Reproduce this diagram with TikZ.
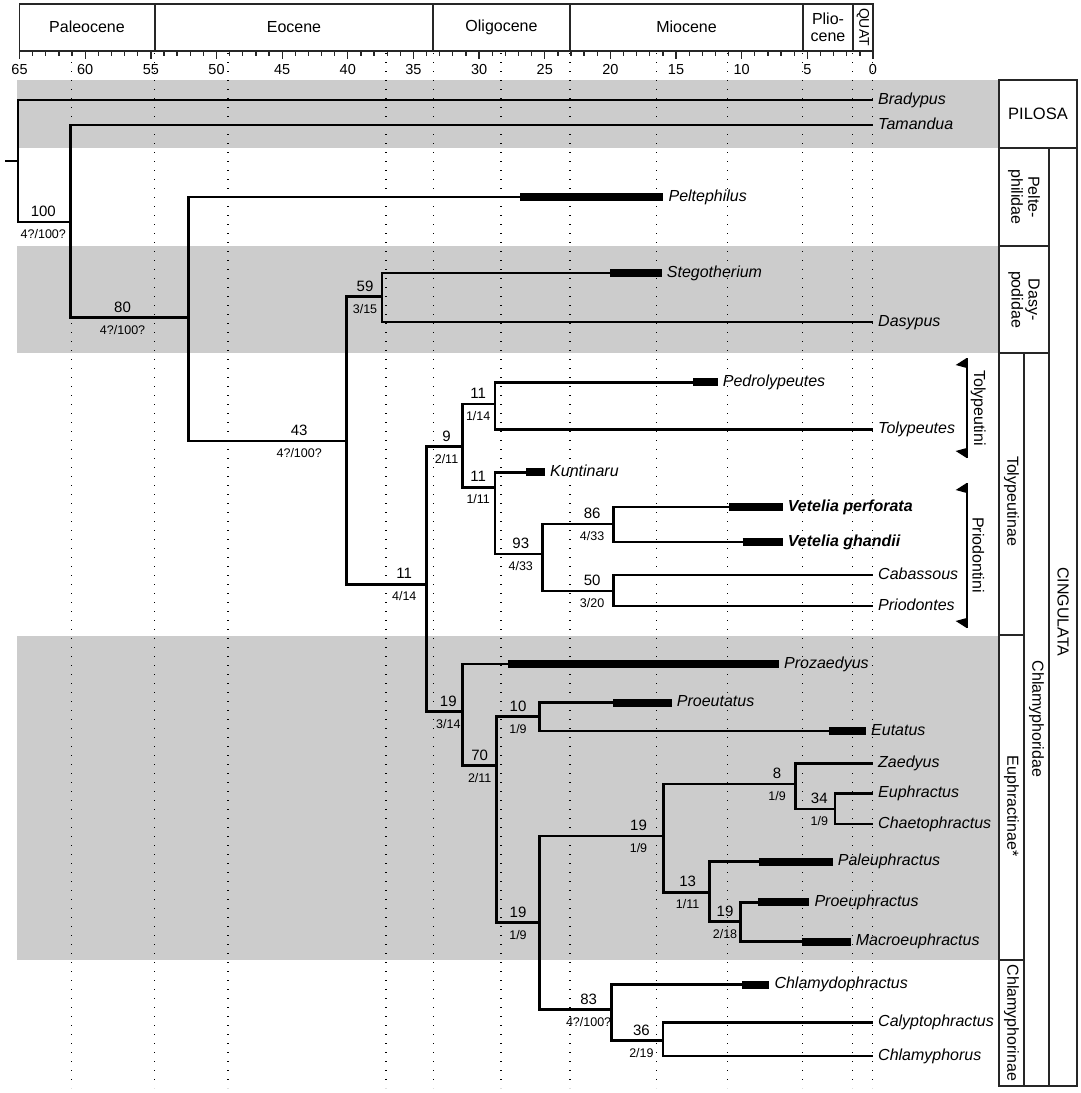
\documentclass[tikz,border=0pt]{standalone}
\usepackage{fontspec}
\setmainfont{Liberation Sans}
\usetikzlibrary{positioning,calc}
\tikzset{
  band/.style={fill=black!20,draw=none},
  timeline/.style={line width=1.2pt,dash pattern=on 1.4pt off 7.6pt,draw=black},
  frame/.style={line width=1.3pt,draw=black!85},
  branch/.style={line width=2.8pt,draw=black},
  bar/.style={line width=8pt,draw=black},
  taxon/.style={anchor=west,inner xsep=5pt,inner ysep=0pt,text height=11.5pt,text depth=3.5pt,font=\fontsize{16}{19}\selectfont\itshape},
  newtaxon/.style={taxon,font=\fontsize{16}{19}\selectfont\bfseries\itshape},
  sval/.style={above=4pt,inner sep=0pt,font=\fontsize{15}{18}\selectfont},
  sfrac/.style={below=6pt,inner sep=0pt,font=\fontsize{12.5}{15}\selectfont},
  epoch/.style={font=\fontsize{16}{17}\selectfont,align=center},
  axisnum/.style={font=\fontsize{14.5}{16}\selectfont},
  rank/.style={font=\fontsize{16}{17}\selectfont,align=center,rotate=-90},
  clade/.style={line width=2pt,draw=black}
}

\begin{document}
\begin{tikzpicture}[x=1pt,y=-1pt]
\useasboundingbox (0,0) rectangle (1081,1093);
% Bandas grises
\fill[band] (17,80) rectangle (999,148);
\fill[band] (17,246) rectangle (999,353);
\fill[band] (17,636) rectangle (999,960);

% Escala de tiempo
\foreach \x in {71.7,154.8,228,385.9,433.1,501,570,656.2,727.2,802.8,852.8,872.8}
  \draw[timeline] (\x,53) -- (\x,1088);
\draw[frame] (19.5,4) rectangle (873,51);
\foreach \x in {155,433,570,803,853}
  \draw[frame] (\x,4) -- (\x,51);
\foreach \t in {0,...,65}
  \draw[frame] ({873-13.13*\t},51) -- ++(0,5);
\foreach \t in {0,5,...,65}{
  \draw[frame] ({873-13.13*\t},51) -- ++(0,8);
  \node[axisnum] (ax\t) at ({873-13.13*\t},70) {\t};
}
\node[epoch] (paleo) at (87,27) {Paleocene};
\node[epoch] (eoc) at (294,27) {Eocene};
\node[epoch] (oligo) at (501.5,27) {Oligocene};
\node[epoch] (mio) at (686.5,27) {Miocene};
\node[epoch] (plio) at (828,27) {Plio-\\cene};
\node[epoch,rotate=-90,font=\fontsize{14}{16}\selectfont] (quat) at (863,27) {QUAT};

% Terminales
\node[taxon] (brad) at (873,100) {Bradypus};
\node[taxon] (tama) at (873,125) {Tamandua};
\node[taxon] (pelt) at (663.4,197) {Peltephilus};
\node[taxon] (steg) at (661.7,273) {Stegotherium};
\node[taxon] (dasy) at (873,322) {Dasypus};
\node[taxon] (pedr) at (717.7,382.3) {Pedrolypeutes};
\node[taxon] (toly) at (873,429.3) {Tolypeutes};
\node[taxon] (kunt) at (545,472.3) {Kuntinaru};
\node[newtaxon] (vper) at (782.7,507) {Vetelia perforata};
\node[newtaxon] (vgha) at (782.7,542) {Vetelia ghandii};
\node[taxon] (caba) at (873,575) {Cabassous};
\node[taxon] (prio) at (873,606) {Priodontes};
\node[taxon] (proz) at (779,664) {Prozaedyus};
\node[taxon] (proe) at (671.7,702.7) {Proeutatus};
\node[taxon] (euta) at (866,731) {Eutatus};
\node[taxon] (zaed) at (873,763.3) {Zaedyus};
\node[taxon] (euph) at (873,793.3) {Euphractus};
\node[taxon] (chae) at (873,824) {Chaetophractus};
\node[taxon] (pale) at (832.7,861.7) {Paleuphractus};
\node[taxon] (proeu) at (809.3,902.3) {Proeuphractus};
\node[taxon] (macr) at (850.7,941.7) {Macroeuphractus};
\node[taxon] (chld) at (769.3,984.5) {Chlamydophractus};
\node[taxon] (caly) at (873,1022.7) {Calyptophractus};
\node[taxon] (chlm) at (873,1056) {Chlamyphorus};

% Nodos internos
\coordinate (stub) at (5,161);
\coordinate (root) at (18,161);
\coordinate (n100) at (70.7,222);
\coordinate (n80) at (188.6,317.7);
\coordinate (n43) at (346.6,441);
\coordinate (n59) at (382,296.7);
\coordinate (n11a) at (426.7,584.3);
\coordinate (n9) at (462.7,446.7);
\coordinate (n11b) at (495,404);
\coordinate (n11c) at (495,487.3);
\coordinate (n93) at (542.7,554);
\coordinate (n86) at (613.3,524);
\coordinate (n50) at (613.3,591);
\coordinate (n19a) at (462.7,711.7);
\coordinate (n70) at (496.7,765.7);
\coordinate (n10) at (539.3,716.7);
\coordinate (n19b) at (539.3,922.7);
\coordinate (n19c) at (663.3,836);
\coordinate (n8) at (795.7,784);
\coordinate (n34) at (835,809);
\coordinate (n13) at (709.3,892.3);
\coordinate (n19d) at (740.7,921.7);
\coordinate (n83) at (611.8,1009.6);
\coordinate (n36) at (662.9,1040.8);

% Ramas
\draw[branch] (stub) -- (root);
\draw[branch] (root) |- (brad.west);
\draw[branch] (root) |- node[sval,pos=.74]{100} node[sfrac,pos=.74]{4?/100?} (n100);
\draw[branch] (n100) |- (tama.west);
\draw[branch] (n100) |- node[sval,pos=.72]{80} node[sfrac,pos=.72]{4?/100?} (n80);
\draw[branch] (n80) |- (pelt.west);
\draw[branch] (n80) |- node[sval,pos=.85]{43} node[sfrac,pos=.85]{4?/100?} (n43);
\draw[branch] (n43) |- node[sval,pos=.76]{59} node[sfrac,pos=.76]{3/15} (n59);
\draw[branch] (n59) |- (steg.west);
\draw[branch] (n59) |- (dasy.west);
\draw[branch] (n43) |- node[sval,pos=.86]{11} node[sfrac,pos=.86]{4/14} (n11a);
\draw[branch] (n11a) |- node[sval,pos=.775]{9} node[sfrac,pos=.775]{2/11} (n9);
\draw[branch] (n9) |- node[sval,pos=.74]{11} node[sfrac,pos=.74]{1/14} (n11b);
\draw[branch] (n11b) |- (pedr.west);
\draw[branch] (n11b) |- (toly.west);
\draw[branch] (n9) |- node[sval,pos=.74]{11} node[sfrac,pos=.74]{1/11} (n11c);
\draw[branch] (n11c) |- (kunt.west);
\draw[branch] (n11c) |- node[sval,pos=.77]{93} node[sfrac,pos=.77]{4/33} (n93);
\draw[branch] (n93) |- node[sval,pos=.85]{86} node[sfrac,pos=.85]{4/33} (n86);
\draw[branch] (n86) |- (vper.west);
\draw[branch] (n86) |- (vgha.west);
\draw[branch] (n93) |- node[sval,pos=.85]{50} node[sfrac,pos=.85]{3/20} (n50);
\draw[branch] (n50) |- (caba.west);
\draw[branch] (n50) |- (prio.west);
\draw[branch] (n11a) |- node[sval,pos=.8]{19} node[sfrac,pos=.8]{3/14} (n19a);
\draw[branch] (n19a) |- (proz.west);
\draw[branch] (n19a) |- node[sval,pos=.75]{70} node[sfrac,pos=.75]{2/11} (n70);
\draw[branch] (n70) |- node[sval,pos=.75]{10} node[sfrac,pos=.75]{1/9} (n10);
\draw[branch] (n10) |- (proe.west);
\draw[branch] (n10) |- (euta.west);
\draw[branch] (n70) |- node[sval,pos=.75]{19} node[sfrac,pos=.75]{1/9} (n19b);
\draw[branch] (n19b) |- node[sval,pos=.9]{19} node[sfrac,pos=.9]{1/9} (n19c);
\draw[branch] (n19c) |- node[sval,pos=.93]{8} node[sfrac,pos=.93]{1/9} (n8);
\draw[branch] (n8) |- (zaed.west);
\draw[branch] (n8) |- node[sval,pos=.8]{34} node[sfrac,pos=.8]{1/9} (n34);
\draw[branch] (n34) |- (euph.west);
\draw[branch] (n34) |- (chae.west);
\draw[branch] (n19c) |- node[sval,pos=.765]{13} node[sfrac,pos=.765]{1/11} (n13);
\draw[branch] (n13) |- (pale.west);
\draw[branch] (n13) |- node[sval,pos=.75]{19} node[sfrac,pos=.75]{2/18} (n19d);
\draw[branch] (n19d) |- (proeu.west);
\draw[branch] (n19d) |- (macr.west);
\draw[branch] (n19b) |- node[sval,pos=.84]{83} node[sfrac,pos=.84]{4?/100?} (n83);
\draw[branch] (n83) |- (chld.west);
\draw[branch] (n83) |- node[sval,pos=.79]{36} node[sfrac,pos=.79]{2/19} (n36);
\draw[branch] (n36) |- (caly.west);
\draw[branch] (n36) |- (chlm.west);

% Registro fosil
\draw[bar] (520,197) -- (pelt.west);
\draw[bar] (610,273) -- (steg.west);
\draw[bar] (693.3,382.3) -- (pedr.west);
\draw[bar] (526,472.3) -- (kunt.west);
\draw[bar] (729.3,507) -- (vper.west);
\draw[bar] (742.7,542) -- (vgha.west);
\draw[bar] (507.7,664) -- (proz.west);
\draw[bar] (613.3,702.7) -- (proe.west);
\draw[bar] (829.3,731) -- (euta.west);
\draw[bar] (759,861.7) -- (pale.west);
\draw[bar] (758.3,902.3) -- (proeu.west);
\draw[bar] (801.7,941.7) -- (macr.west);
\draw[bar] (742,984.5) -- (chld.west);

% Tribus
\draw[clade] (966.7,358) -- (966.7,458);
\fill (966.7,358) -- (955.7,365) -- (966.7,368) -- cycle;
\fill (966.7,448) -- (955.7,451) -- (966.7,458) -- cycle;
\node[rank] (tolyt) at (978.3,408) {Tolypeutini};
\draw[clade] (966.7,483) -- (966.7,628);
\fill (966.7,483) -- (955.7,490) -- (966.7,493) -- cycle;
\fill (966.7,618) -- (955.7,621) -- (966.7,628) -- cycle;
\node[rank] (priot) at (978.3,555) {Priodontini};

% Clasificacion
\draw[frame] (999,80) rectangle (1077,148);
\node[font=\fontsize{16.5}{18}\selectfont] (pilosa) at (1038,114) {PILOSA};
\draw[frame] (999,148) rectangle (1049,246);
\node[rank] (peltf) at (1024,197) {Pelte-\\philidae};
\draw[frame] (999,246) rectangle (1049,353);
\node[rank] (dasyf) at (1024,299.5) {Dasy-\\podidae};
\draw[frame] (999,353) rectangle (1024,635);
\node[rank] (tolys) at (1011.5,501) {Tolypeutinae};
\draw[frame] (999,635) rectangle (1024,960);
\node[rank] (euphs) at (1011.5,806) {Euphractinae*};
\draw[frame] (999,960) rectangle (1024,1086);
\node[rank] (chlas) at (1011.5,1023) {Chlamyphorinae};
\draw[frame] (1024,353) rectangle (1049,1086);
\node[rank] (chlaf) at (1036.5,719) {Chlamyphoridae};
\draw[frame] (1049,148) rectangle (1077,1086);
\node[rank] (cing) at (1063,612) {CINGULATA};
\end{tikzpicture}
\end{document}
